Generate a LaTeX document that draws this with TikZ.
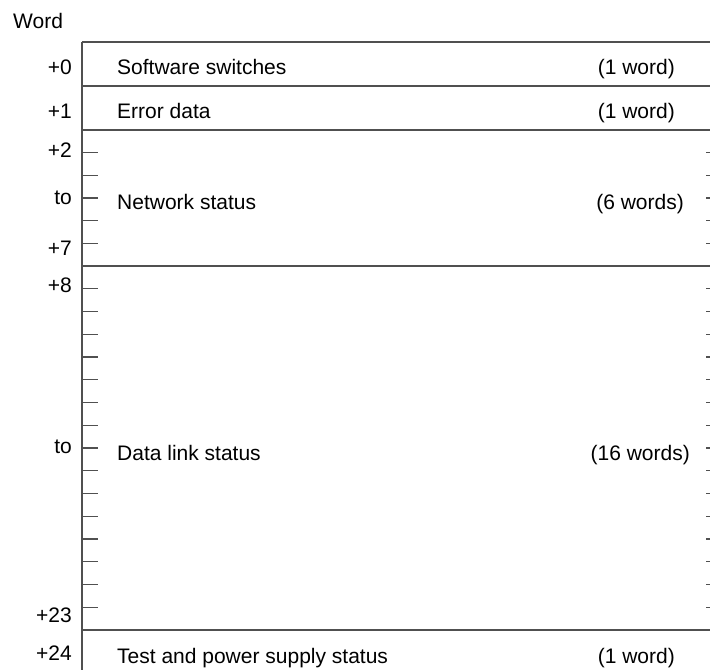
\documentclass[tikz,border=0pt]{standalone}
\usepackage{fontspec}
\setmainfont{Liberation Sans}
\usetikzlibrary{positioning}
\definecolor{rulegray}{RGB}{80,80,80}

\begin{document}
\begin{tikzpicture}[x=1pt,y=-1pt,
      rule/.style={draw=rulegray,line width=1.4pt},
      wtick/.style={draw=rulegray,line width=1.1pt},
      txt/.style={inner sep=0pt,font=\fontsize{21}{25}\selectfont},
      offtxt/.style={txt,anchor=base east},
      fieldtxt/.style={txt,anchor=base west},
      cnttxt/.style={txt,anchor=base east}]
    \useasboundingbox (0,0) rectangle (710,670);
    % frame and row borders
    \coordinate (ltop) at (82,42); \coordinate (lbot) at (82,670);
    \draw[rule](ltop)--(lbot);
    \foreach \y/\n in {42/a,86/b,130/c,266/d,630/e}{
      \coordinate (\n0) at (82,\y); \coordinate (\n1) at (710,\y);
      \draw[rule](\n0)--(\n1);}
    % word ticks
    \foreach \k in {1,...,5}{
      \draw[wtick](82,130+\k*22.67)--++(16,0);
      \draw[wtick](706,130+\k*22.67)--++(4,0);}
    \foreach \k in {1,...,15}{
      \draw[wtick](82,266+\k*22.75)--++(16,0);
      \draw[wtick](706,266+\k*22.75)--++(4,0);}
    % labels
    \node[txt,anchor=base west](word) at (13,28){Word};
    \node[offtxt](o0) at (72,74){+0};
    \node[offtxt](o1) at (72,118){+1};
    \node[offtxt](o2) at (72,157){+2};
    \node[offtxt](to1) at (72,204){to};
    \node[offtxt](o7) at (72,255){+7};
    \node[offtxt](o8) at (72,292){+8};
    \node[offtxt](to2) at (72,453){to};
    \node[offtxt](o23) at (72,622){+23};
    \node[offtxt](o24) at (72,660){+24};
    \node[fieldtxt](sw) at (117,74){Software switches};
    \node[fieldtxt](err) at (117,118){Error data};
    \node[fieldtxt](net) at (117,209){Network status};
    \node[fieldtxt](dl) at (117,460){Data link status};
    \node[fieldtxt](tst) at (117,663){Test and power supply status};
    \node[cnttxt](csw) at (675,74){(1 word)};
    \node[cnttxt](cerr) at (675,118){(1 word)};
    \node[cnttxt](cnet) at (684,209){(6 words)};
    \node[cnttxt](cdl) at (690,460){(16 words)};
    \node[cnttxt](ctst) at (675,663){(1 word)};
  \end{tikzpicture}
\end{document}
